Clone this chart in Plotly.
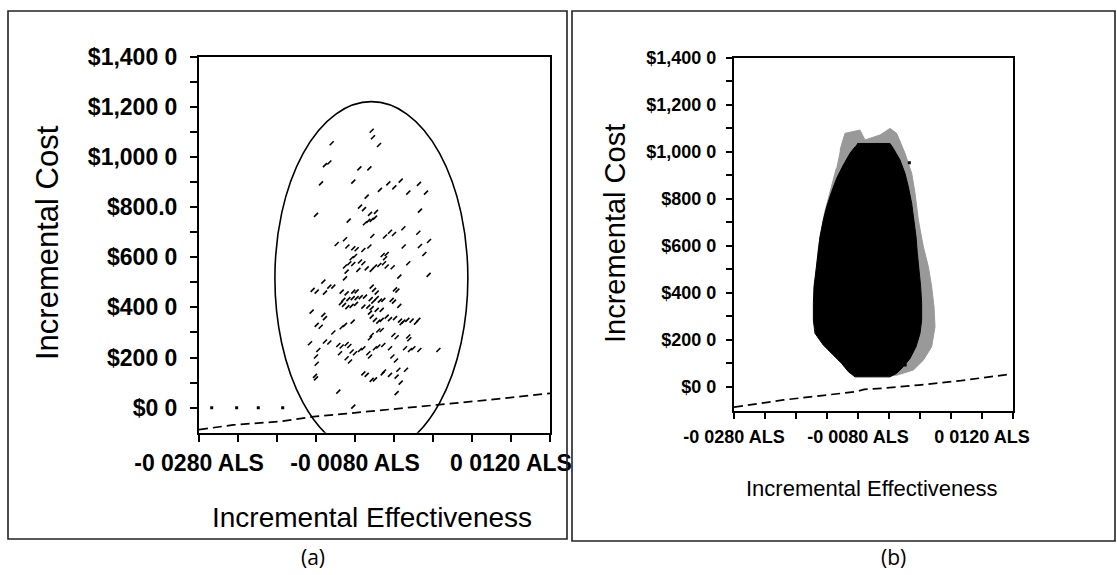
import plotly.graph_objects as go

W, H = 1117, 575

# ---------------- data ----------------
X_TICKS = [-0.028, -0.023, -0.018, -0.013, -0.008, -0.003, 0.002, 0.007, 0.012, 0.017]
X_TICK_TEXT = ["-0 0280 ALS", "", "", "", "-0 0080 ALS", "", "", "", "0 0120 ALS", ""]
Y_TICKS = [0, 100, 200, 300, 400, 500, 600, 700, 800, 900, 1000, 1100, 1200, 1300, 1400]
Y_TICK_TEXT_A = ["$0 0", "", "$200 0", "", "$400 0", "", "$600 0", "", "$800.0", "",
                 "$1,000 0", "", "$1,200 0", "", "$1,400 0"]
Y_TICK_TEXT_B = ["$0 0", "", "$200 0", "", "$400 0", "", "$600 0", "", "$800 0", "",
                 "$1,000 0", "", "$1,200 0", "", "$1,400 0"]

# panel (a): bootstrap replicates
LEFT_X = [-0.00586, -0.00569, -0.00492, -0.01099, -0.01185, -0.01129, -0.00744, -0.00616, -0.01236, -0.00822,
          -0.00650, -0.00480, -0.00373, -0.00296, -0.00214, -0.00117, 0.00020, 0.00110, 0.00033, -0.01300,
          -0.00736, -0.00685, -0.00608, -0.00531, -0.00672, -0.00629, -0.00586, -0.00544, -0.00881, -0.00578,
          -0.00351, -0.00300, -0.00415, -0.00180, 0.00012, 0.00149, -0.01035, -0.00928, -0.00898, -0.00822,
          -0.00779, -0.00693, -0.00616, -0.00176, 0.00033, 0.00089, -0.00800, -0.00843, -0.00873, -0.00822,
          -0.00928, -0.00907, -0.00736, -0.00693, -0.00757, -0.00650, -0.00586, -0.00544, -0.00488, -0.00445,
          -0.00394, -0.00415, -0.00428, -0.00394, -0.00317, -0.00117, -0.00232, -0.00928, 0.00144, -0.01206,
          -0.01343, -0.01291, -0.01129, -0.01078, -0.01185, -0.00971, -0.00907, -0.00822, -0.00779, -0.00586,
          -0.00556, -0.00522, -0.00287, -0.00257, -0.00885, -0.00950, -0.00830, -0.00779, -0.00727, -0.00672,
          -0.00980, -0.00941, -0.00898, -0.00843, -0.00787, -0.00599, -0.00565, -0.00522, -0.00480, -0.00437,
          -0.00330, -0.00300, -0.00693, -0.00629, -0.00586, -0.00522, -0.00458, -0.00232, -0.01356, -0.01206,
          -0.01185, -0.01291, -0.01240, -0.01078, -0.00971, -0.00928, -0.00830, -0.00608, -0.00586, -0.00544,
          -0.00394, -0.00351, -0.00287, -0.00223, -0.00180, -0.00129, -0.00074, -0.00018, 0.00012, -0.00501,
          -0.00458, -0.00202, -0.00308, -0.00266, -0.00117, -0.00104, -0.00608, -0.00586, -0.00501, -0.00458,
          -0.01377, -0.01270, -0.01300, -0.01185, -0.01129, -0.01014, -0.00971, -0.00907, -0.00873, -0.00992,
          -0.00843, -0.00800, -0.00907, -0.00864, -0.00736, -0.00693, -0.00629, -0.00608, -0.00544, -0.00501,
          -0.00437, -0.00351, -0.00321, -0.00274, -0.00159, -0.00095, -0.00052, 0.00025, 0.00269, -0.01291,
          -0.01313, -0.01300, -0.00693, -0.00650, -0.00586, -0.00544, -0.00445, -0.00428, -0.00351, -0.00266,
          -0.00244, -0.00214, -0.00146, -0.01014, -0.00266, -0.00822]
LEFT_Y = [1105, 1079, 1048, 1055, 968, 978, 955, 955, 895, 902,
          842, 869, 895, 879, 906, 858, 893, 858, 786, 769,
          802, 792, 773, 781, 736, 745, 749, 758, 746, 685,
          702, 693, 683, 716, 698, 665, 653, 672, 643, 636,
          632, 629, 643, 643, 645, 613, 605, 596, 576, 573,
          563, 543, 583, 576, 550, 556, 550, 563, 569, 609,
          613, 596, 576, 563, 560, 576, 523, 516, 530, 503,
          470, 463, 483, 483, 459, 463, 456, 463, 464, 483,
          470, 459, 472, 467, 433, 430, 437, 437, 441, 443,
          417, 410, 401, 406, 414, 433, 423, 437, 427, 430,
          430, 423, 403, 403, 397, 390, 390, 406, 383, 370,
          357, 330, 323, 300, 321, 330, 343, 379, 363, 350,
          363, 353, 357, 347, 343, 350, 347, 339, 350, 343,
          350, 337, 290, 281, 284, 273, 277, 290, 308, 310,
          257, 230, 204, 264, 260, 250, 244, 254, 246, 217,
          224, 217, 197, 184, 230, 237, 217, 204, 237, 244,
          250, 237, 204, 188, 237, 230, 237, 230, 230, 175,
          127, 117, 137, 131, 111, 113, 137, 144, 131, 124,
          151, 100, 151, 64, 58, 4]

# dots along the zero-cost line, panel (a)
ZERO_DOTS_X = [-0.02637, -0.02317, -0.02040, -0.01727]
ZERO_DOTS_Y = [0, 0, 0, 0]

# confidence ellipse, panel (a): centre and semi-axes
ELL_CX, ELL_CY = -0.0059, 517
ELL_AX, ELL_AY = 0.01237, 704

# threshold (dashed) lines
THR_A_X = [-0.0280, -0.0236, -0.0176, -0.0133, -0.0095, -0.0048, -0.0014, 0.0025, 0.0085, 0.0170]
THR_A_Y = [-88, -69, -55, -36, -25, -12, -2, 11, 29, 57]
THR_B_X = [-0.0280, -0.0200, -0.0083, -0.0070, -0.0038, 0.0018, 0.0086, 0.0168]
THR_B_Y = [-86, -55, -20, -10, -5, 8, 27, 55]

# panel (b): dense cloud outline (core) and grey fringe
CORE_X = [-0.00811, -0.00284, -0.00230, -0.00123, -0.00042, 0.00012, 0.00066, 0.00103, 0.00136, 0.00157,
          0.00189, 0.00211, 0.00227, 0.00227, 0.00200, 0.00136, 0.00039, -0.00069, -0.00176, -0.00284,
          -0.00848, -0.00956, -0.01064, -0.01198, -0.01359, -0.01494, -0.01520, -0.01520, -0.01510, -0.01477,
          -0.01450, -0.01413, -0.01359, -0.01305, -0.01225, -0.01144, -0.01037, -0.00929, -0.00848]
CORE_Y = [1035, 1035, 1014, 965, 908, 851, 780, 710, 639, 568,
          497, 426, 355, 284, 228, 171, 121, 86, 58, 43,
          43, 65, 100, 135, 178, 228, 284, 355, 426, 497,
          568, 639, 710, 766, 830, 887, 943, 993, 1021]
FRINGE_X = [-0.01090, -0.01010, -0.00768, -0.00687, -0.00445, -0.00284, -0.00176, -0.00042, 0.00066, 0.00120,
            0.00173, 0.00254, 0.00335, 0.00388, 0.00426, 0.00442, 0.00388, 0.00254, 0.00093, -0.00176,
            -0.00848, -0.01500, -0.01500, -0.01435, -0.01340, -0.01225, -0.01150]
FRINGE_Y = [1007, 1078, 1092, 1050, 1071, 1099, 1078, 993, 908, 823,
            710, 596, 511, 426, 341, 256, 171, 114, 72, 50,
            45, 284, 426, 600, 740, 860, 930]
OUTLIER_X = [-0.00039, 0.00028]
OUTLIER_Y = [93, 953]

X_RANGE = [-0.028, 0.017]
Y_RANGE = [-100, 1400]

# ---------------- figure ----------------
REG = "Liberation Sans, Arial, sans-serif"

fig = go.Figure()

# panel (a)
fig.add_trace(go.Scatter(x=THR_A_X, y=THR_A_Y, mode="lines", xaxis="x", yaxis="y",
                         line=dict(color="black", width=1.7, dash="9px,5px"), hoverinfo="skip"))
fig.add_trace(go.Scatter(x=ZERO_DOTS_X, y=ZERO_DOTS_Y, mode="markers", xaxis="x", yaxis="y",
                         marker=dict(color="black", size=3, symbol="square")))
fig.add_trace(go.Scatter(x=LEFT_X, y=LEFT_Y, mode="markers", xaxis="x", yaxis="y",
                         marker=dict(symbol="line-ne", size=4, color="black",
                                     line=dict(color="black", width=1.6))))

# panel (b)
fig.add_trace(go.Scatter(x=THR_B_X, y=THR_B_Y, mode="lines", xaxis="x2", yaxis="y2",
                         line=dict(color="black", width=1.7, dash="9px,5px"), hoverinfo="skip"))
fig.add_trace(go.Scatter(x=FRINGE_X, y=FRINGE_Y, mode="lines", fill="toself", xaxis="x2", yaxis="y2",
                         fillcolor="#999999", line=dict(color="#999999", width=1)))
fig.add_trace(go.Scatter(x=CORE_X, y=CORE_Y, mode="lines", fill="toself", xaxis="x2", yaxis="y2",
                         fillcolor="black", line=dict(color="black", width=1)))
fig.add_trace(go.Scatter(x=OUTLIER_X, y=OUTLIER_Y, mode="markers", xaxis="x2", yaxis="y2",
                         marker=dict(color="black", size=3, symbol="square")))

def px_x(p):
    return p / W

def px_y(p):
    return 1 - p / H

axis_common = dict(showline=True, linecolor="black", mirror=True, ticks="outside",
                   tickcolor="black", showgrid=False, zeroline=False, tickmode="array",
                   fixedrange=True, automargin=False, tickangle=0)

tick_font_a = dict(family=REG, size=23, color="black", weight="bold")
tick_font_b = dict(family=REG, size=18, color="black", weight="bold")

fig.update_layout(
    width=W, height=H, margin=dict(l=0, r=0, t=0, b=0, pad=0, autoexpand=False),
    paper_bgcolor="white", plot_bgcolor="white", showlegend=False,
    xaxis=dict(axis_common, domain=[px_x(199), px_x(550)], range=X_RANGE, anchor="y",
               tickvals=X_TICKS, ticktext=X_TICK_TEXT, linewidth=2, ticklen=7, tickwidth=2,
               tickfont=tick_font_a, ticklabelstandoff=2),
    yaxis=dict(axis_common, domain=[px_y(432.7), px_y(56.8)], range=Y_RANGE, anchor="x",
               tickvals=Y_TICKS, ticktext=Y_TICK_TEXT_A, linewidth=2, ticklen=7, tickwidth=2,
               tickfont=tick_font_a, ticklabelstandoff=8),
    xaxis2=dict(axis_common, domain=[px_x(734), px_x(1013)], range=X_RANGE, anchor="y2",
                tickvals=X_TICKS, ticktext=X_TICK_TEXT, linewidth=2, ticklen=6, tickwidth=2,
                tickfont=tick_font_b, ticklabelstandoff=3),
    yaxis2=dict(axis_common, domain=[px_y(410.5), px_y(57.6)], range=Y_RANGE, anchor="x2",
                tickvals=Y_TICKS, ticktext=Y_TICK_TEXT_B, linewidth=2, ticklen=6, tickwidth=2,
                tickfont=tick_font_b, ticklabelstandoff=6),
)

# confidence ellipse (data-referenced shape)
fig.add_shape(type="circle", xref="x", yref="y",
              x0=ELL_CX - ELL_AX, x1=ELL_CX + ELL_AX, y0=ELL_CY - ELL_AY, y1=ELL_CY + ELL_AY,
              line=dict(color="black", width=1.6), layer="above")

# panel frames
fig.add_shape(type="rect", xref="paper", yref="paper", x0=px_x(8), x1=px_x(567),
              y0=px_y(539), y1=px_y(11), line=dict(color="#222222", width=1.6))
fig.add_shape(type="rect", xref="paper", yref="paper", x0=px_x(572), x1=px_x(1115),
              y0=px_y(541), y1=px_y(11), line=dict(color="#222222", width=1.6))

def label(text, x, y, size, family=REG, angle=0):
    fig.add_annotation(text=text, x=px_x(x), y=px_y(y), xref="paper", yref="paper",
                       showarrow=False, xanchor="center", yanchor="middle", textangle=angle,
                       font=dict(family=family, size=size, color="black"))

label("Incremental Cost", 47, 243, 31, angle=-90)
label("Incremental Effectiveness", 372, 517, 28)
label("Incremental Cost", 615, 234, 29, angle=-90)
label("Incremental Effectiveness", 871.5, 488, 22)
label("(a)", 313, 557, 21, family="Open Sans, Liberation Sans, sans-serif")
label("(b)", 893, 557, 21, family="Open Sans, Liberation Sans, sans-serif")

fig.write_html("out.html")
